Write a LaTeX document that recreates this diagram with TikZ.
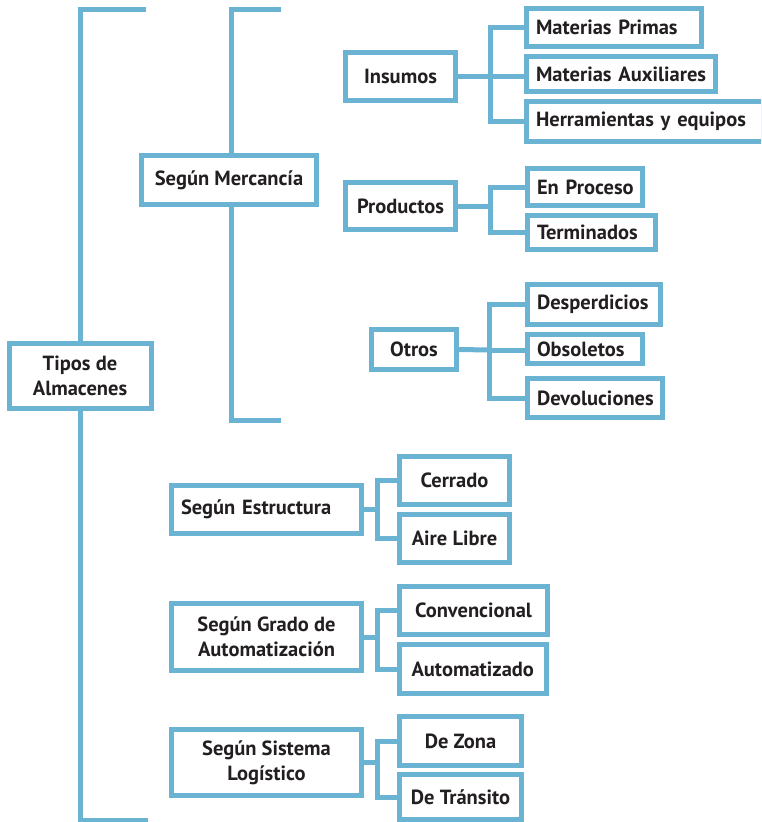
\documentclass[tikz,border=0pt]{standalone}
\usepackage{fontspec}
\setmainfont{PT Sans}
\usetikzlibrary{calc,backgrounds}
\definecolor{lb}{RGB}{106,179,210}
\definecolor{tx}{RGB}{35,31,32}
\begin{document}
\begin{tikzpicture}[x=1pt,y=-1pt,line join=miter,
  box/.style={draw=lb,fill=white,line width=5pt,text=tx,
    font=\bfseries\fontsize{20.5}{25}\selectfont,inner sep=0pt,align=center},
  lbox/.style={box,align=left,inner xsep=9.5pt},
  conn/.style={draw=lb,line width=5pt}]
\useasboundingbox (0,0) rectangle (761,822);
\clip (0,0) rectangle (761,822);
% level 1 and 2
\node[box,minimum width=142,minimum height=65] (tipos) at (80,376) {Tipos de\\Almacenes};
\node[box,minimum width=175,minimum height=49] (merc) at (229,180) {Según Mercancía};
% Insumos
\node[box,minimum width=110,minimum height=48] (ins) at (400.5,76.5) {Insumos};
\node[lbox,text width=156,minimum height=38] (mp) at (614,27.5) {\mbox{Materias Primas}};
\node[lbox,text width=170,minimum height=35] (ma) at (621,74) {\mbox{Materias Auxiliares}};
\node[lbox,text width=217.5,minimum height=40] (herr) at (644.75,121.5) {\mbox{Herramientas y equipos}};
% Productos
\node[box,minimum width=110,minimum height=47] (prod) at (400.5,206) {Productos};
\node[lbox,text width=96,minimum height=37] (enp) at (585,187) {\mbox{En Proceso}};
\node[lbox,text width=109,minimum height=34] (term) at (591.5,232.5) {\mbox{Terminados}};
% Otros
\node[box,minimum width=85,minimum height=40] (otros) at (414,349.5) {Otros};
\node[lbox,text width=114,minimum height=40] (desp) at (594,304.5) {\mbox{Desperdicios}};
\node[lbox,text width=96,minimum height=29] (obs) at (585,349) {\mbox{Obsoletos}};
\node[lbox,text width=116,minimum height=39] (dev) at (595,398) {\mbox{Devoluciones}};
% Estructura
\node[lbox,text width=171,minimum height=48] (estr) at (266.5,509.5) {\mbox{Según Estructura}};
\node[box,minimum width=110,minimum height=48] (cerr) at (454.5,480.5) {Cerrado};
\node[box,minimum width=110,minimum height=48] (aire) at (454.5,538.5) {Aire Libre};
% Automatizacion
\node[box,minimum width=190,minimum height=67] (grado) at (266.5,637) {Según Grado de\\Automatización};
\node[box,minimum width=148,minimum height=48] (conv) at (473.5,610.5) {Convencional};
\node[box,minimum width=146.5,minimum height=49] (auto) at (472.75,669) {Automatizado};
% Sistema logistico
\node[box,minimum width=190,minimum height=66] (sist) at (266.5,762.5) {Según Sistema\\Logístico};
\node[box,minimum width=122,minimum height=49] (zona) at (460.5,741) {De Zona};
\node[box,minimum width=122,minimum height=45] (tran) at (460.5,797) {De Tránsito};
\begin{pgfonlayer}{background}
\coordinate (t1) at (146,9.5);
\coordinate (b1) at (148,820);
\coordinate (t2) at (281,9.5);
\coordinate (b2) at (281,420.5);
\draw[conn] (t1) -| (tipos.north);
\draw[conn] (b1) -| (tipos.south);
\draw[conn] (t2) -| ($(merc.north)+(2.5,0)$);
\draw[conn] (b2) -| ($(merc.south)+(2.5,0)$);
\coordinate (j1) at (490,76.5);
\draw[conn] (ins.east) -- (j1);
\draw[conn] (mp.west) -| (j1) |- (herr.west);
\draw[conn] (j1) -- (j1 -| ma.west);
\coordinate (j2) at (490,206);
\draw[conn] (prod.east) -- (j2);
\draw[conn] (enp.west) -| (j2) |- (term.west);
\coordinate (j3) at (489,350);
\draw[conn] (otros.east) -- (j3);
\draw[conn] (desp.west) -| (j3) |- (dev.west);
\draw[conn] (j3) -- (j3 -| obs.west);
\coordinate (j4) at (377,509.5);
\draw[conn] (estr.east) -- (j4);
\draw[conn] (cerr.west) -| (j4) |- (aire.west);
\coordinate (j5) at (377,637);
\draw[conn] (grado.east) -- (j5);
\draw[conn] (conv.west) -| (j5) |- (auto.west);
\coordinate (j6) at (377,762.5);
\draw[conn] (sist.east) -- (j6);
\draw[conn] (zona.west) -| (j6) |- (tran.west);
\end{pgfonlayer}
\end{tikzpicture}
\end{document}
